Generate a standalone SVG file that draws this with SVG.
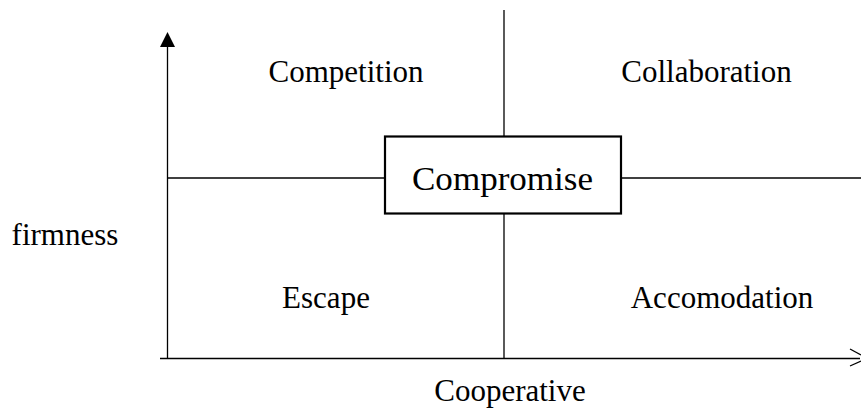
<svg xmlns="http://www.w3.org/2000/svg" width="861" height="410" viewBox="0 0 861 410">
<style>
.ln{stroke:#000;stroke-width:1.3;fill:none}
.t{font-family:"Liberation Serif","Times New Roman",serif;font-size:31px;fill:#000;text-anchor:middle}
</style>
<rect width="861" height="410" fill="#fff"/>
<g id="connectors">
<line class="ln" x1="167.5" y1="45" x2="167.5" y2="358"/>
<polygon points="167.5,32 160,47 175,47" fill="#000"/>
<line class="ln" x1="160" y1="358.5" x2="860" y2="358.5"/>
<polyline class="ln" points="850,349 861,355"/>
<polyline class="ln" points="850,366 861,361"/>
<line class="ln" x1="504" y1="10" x2="504" y2="136"/>
<line class="ln" x1="504" y1="214" x2="504" y2="358"/>
<line class="ln" x1="167.5" y1="178" x2="384" y2="178"/>
<line class="ln" x1="622" y1="178" x2="861" y2="178"/>
</g>
<g id="compromise">
<rect x="385" y="136.5" width="236" height="77" fill="#fff" stroke="#000" stroke-width="2.2"/>
<text class="t" x="502.5" y="190" style="font-size:33px" textLength="181" lengthAdjust="spacingAndGlyphs">Compromise</text>
</g>
<g id="competition"><text class="t" x="346" y="82">Competition</text></g>
<g id="collaboration"><text class="t" x="706.5" y="82">Collaboration</text></g>
<g id="escape"><text class="t" x="326" y="308">Escape</text></g>
<g id="accomodation"><text class="t" x="722" y="308">Accomodation</text></g>
<g id="firmness"><text class="t" x="65" y="245">firmness</text></g>
<g id="cooperative"><text class="t" x="510" y="401">Cooperative</text></g>
</svg>
